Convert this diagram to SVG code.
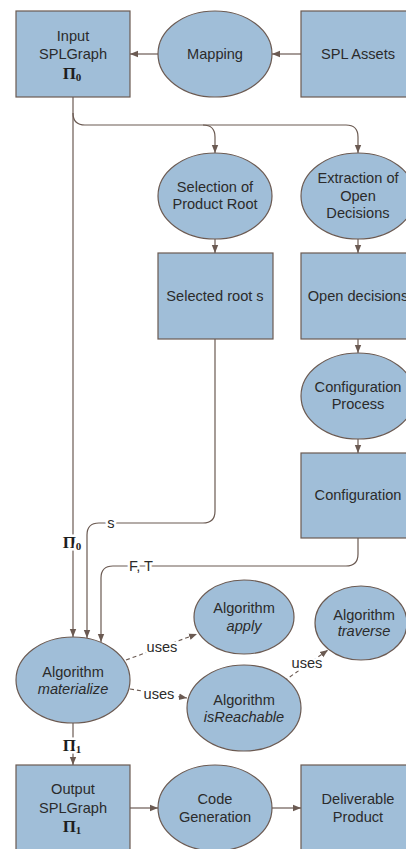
<svg xmlns="http://www.w3.org/2000/svg" width="406" height="849" viewBox="0 0 406 849">
  <style>
    .box { fill: #a0bed8; stroke: #6b5a52; stroke-width: 1.2; }
    .lbl { font-family: "Liberation Sans", Arial, sans-serif; font-size: 14.6px; fill: #2b2b2b; text-anchor: middle; }
    .it { font-style: italic; }
    .pi { font-family: "Liberation Serif", "Times New Roman", serif; font-weight: bold; font-size: 17px; fill: #1e1e1e; text-anchor: middle; }
    .sub { font-size: 11px; }
    .edge { fill: none; stroke: #6b5a52; stroke-width: 1.2; }
    .dash { fill: none; stroke: #6b5a52; stroke-width: 1.1; stroke-dasharray: 4 3; }
    .tag { paint-order: stroke; stroke: #ffffff; stroke-width: 5px; stroke-linejoin: round; }
  </style>
  <defs>
    <marker id="arrow" viewBox="0 0 10 10" refX="10" refY="5" markerWidth="8" markerHeight="8" markerUnits="userSpaceOnUse" orient="auto">
      <path d="M0,1 L10,5 L0,9 Z" fill="#6b5a52"/>
    </marker>
  </defs>

  <rect width="406" height="849" fill="#ffffff"/>

  <!-- connectors -->
  <g id="connectors">
    <path class="edge" d="M158,54 H130" marker-end="url(#arrow)"/>
    <path class="edge" d="M301,54 H272" marker-end="url(#arrow)"/>
    <path class="edge" d="M73,97 V637" marker-end="url(#arrow)"/>
    <path class="edge" d="M73,113 Q73,125 85,125 H203 Q215,125 215,137 V153" marker-end="url(#arrow)"/>
    <path class="edge" d="M203,125 H346 Q358,125 358,137 V153" marker-end="url(#arrow)"/>
    <path class="edge" d="M215,239 V253" marker-end="url(#arrow)"/>
    <path class="edge" d="M358,239 V253" marker-end="url(#arrow)"/>
    <path class="edge" d="M358,339 V353" marker-end="url(#arrow)"/>
    <path class="edge" d="M358,439 V453" marker-end="url(#arrow)"/>
    <path class="edge" d="M215,339 V511 Q215,523 203,523 H99 Q87,523 87,535 V638" marker-end="url(#arrow)"/>
    <path class="edge" d="M358,538 V554 Q358,566 346,566 H113 Q101,566 101,578 V642" marker-end="url(#arrow)"/>
    <path class="edge" d="M73,723 V765" marker-end="url(#arrow)"/>
    <path class="edge" d="M130,808 H158" marker-end="url(#arrow)"/>
    <path class="edge" d="M272,808 H301" marker-end="url(#arrow)"/>
    <path class="dash" d="M126,660 L197,634" marker-end="url(#arrow)"/>
    <path class="dash" d="M130,689 L187,698" marker-end="url(#arrow)"/>
    <path class="dash" d="M284,681 L328,650" marker-end="url(#arrow)"/>

    <text class="lbl tag" x="111" y="528">s</text>
    <text class="lbl tag" x="141" y="571">F, T</text>
    <text class="pi tag" x="72" y="548">Π<tspan class="sub" dy="2">0</tspan></text>
    <text class="pi tag" x="72" y="751">Π<tspan class="sub" dy="2">1</tspan></text>
    <text class="lbl tag" x="162" y="652">uses</text>
    <text class="lbl tag" x="159" y="699">uses</text>
    <text class="lbl tag" x="307" y="668">uses</text>
  </g>

  <g id="input-splgraph">
    <rect class="box" x="16" y="11" width="114" height="86"/>
    <text class="lbl" x="73" y="41">Input</text>
    <text class="lbl" x="73" y="59">SPLGraph</text>
    <text class="pi" x="72" y="79">Π<tspan class="sub" dy="2">0</tspan></text>
  </g>

  <g id="mapping">
    <ellipse class="box" cx="215" cy="54" rx="57" ry="43"/>
    <text class="lbl" x="215" y="59">Mapping</text>
  </g>

  <g id="spl-assets">
    <rect class="box" x="301" y="11" width="114" height="86"/>
    <text class="lbl" x="358" y="59">SPL Assets</text>
  </g>

  <g id="selection-root">
    <ellipse class="box" cx="215" cy="196" rx="57" ry="43"/>
    <text class="lbl" x="215" y="192">Selection of</text>
    <text class="lbl" x="215" y="209">Product Root</text>
  </g>

  <g id="extraction">
    <ellipse class="box" cx="358" cy="196" rx="57" ry="43"/>
    <text class="lbl" x="358" y="183">Extraction of</text>
    <text class="lbl" x="358" y="201">Open</text>
    <text class="lbl" x="358" y="218">Decisions</text>
  </g>

  <g id="selected-root">
    <rect class="box" x="158" y="253" width="115" height="86"/>
    <text class="lbl" x="215" y="301">Selected root s</text>
  </g>

  <g id="open-decisions">
    <rect class="box" x="301" y="253" width="114" height="86"/>
    <text class="lbl" x="358" y="301">Open decisions</text>
  </g>

  <g id="configuration-process">
    <ellipse class="box" cx="358" cy="396" rx="57" ry="43"/>
    <text class="lbl" x="358" y="392">Configuration</text>
    <text class="lbl" x="358" y="409">Process</text>
  </g>

  <g id="configuration">
    <rect class="box" x="301" y="453" width="114" height="85"/>
    <text class="lbl" x="358" y="500">Configuration</text>
  </g>

  <g id="alg-materialize">
    <ellipse class="box" cx="73" cy="680" rx="57" ry="43"/>
    <text class="lbl" x="73" y="677">Algorithm</text>
    <text class="lbl it" x="73" y="694">materialize</text>
  </g>

  <g id="alg-apply">
    <ellipse class="box" cx="244" cy="617" rx="50" ry="37"/>
    <text class="lbl" x="244" y="613">Algorithm</text>
    <text class="lbl it" x="244" y="631">apply</text>
  </g>

  <g id="alg-traverse">
    <ellipse class="box" cx="361" cy="623" rx="46" ry="37"/>
    <text class="lbl" x="364" y="620">Algorithm</text>
    <text class="lbl it" x="364" y="636">traverse</text>
  </g>

  <g id="alg-isreachable">
    <ellipse class="box" cx="244" cy="708" rx="57" ry="43"/>
    <text class="lbl" x="244" y="705">Algorithm</text>
    <text class="lbl it" x="244" y="722">isReachable</text>
  </g>

  <g id="output-splgraph">
    <rect class="box" x="16" y="765" width="114" height="86"/>
    <text class="lbl" x="73" y="794">Output</text>
    <text class="lbl" x="73" y="813">SPLGraph</text>
    <text class="pi" x="72" y="832">Π<tspan class="sub" dy="2">1</tspan></text>
  </g>

  <g id="code-generation">
    <ellipse class="box" cx="215" cy="808" rx="57" ry="43"/>
    <text class="lbl" x="215" y="804">Code</text>
    <text class="lbl" x="215" y="822">Generation</text>
  </g>

  <g id="deliverable">
    <rect class="box" x="301" y="765" width="114" height="86"/>
    <text class="lbl" x="358" y="804">Deliverable</text>
    <text class="lbl" x="358" y="822">Product</text>
  </g>
</svg>
